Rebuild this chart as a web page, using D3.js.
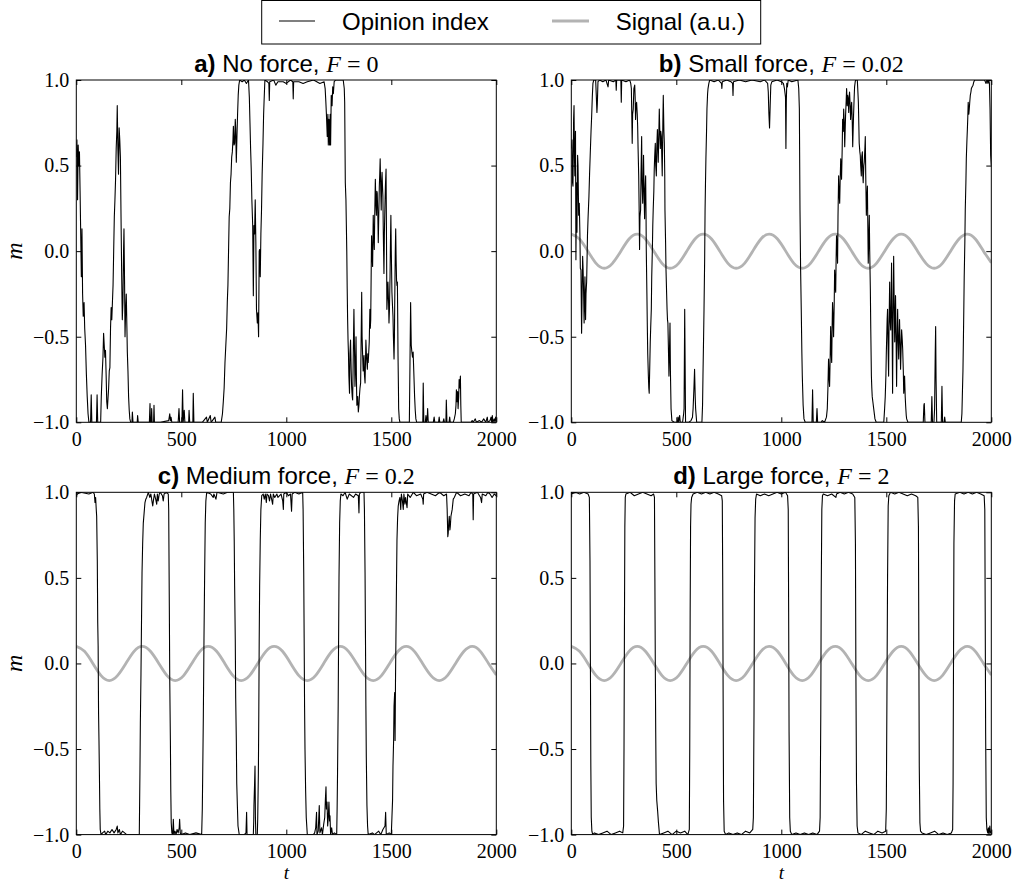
<!DOCTYPE html>
<html><head><meta charset="utf-8">
<script src="https://cdn.jsdelivr.net/npm/d3@7/dist/d3.min.js"></script>
<style>body{margin:0;background:#fff}</style>
</head><body><svg id="chart" width="1014" height="883" xmlns="http://www.w3.org/2000/svg"></svg>
<script>
const xTicks=[0,500,1000,1500,2000];
const yTicks=[-1,-0.5,0,0.5,1];
const panelLetters=["a)","b)","c)","d)"];
const panelNames=["No force,","Small force,","Medium force,","Large force,"];
const forceValues=["0","0.02","0.2","2"];
const legendLabels=["Opinion index","Signal (a.u.)"];
const showSignal=[false,true,true,true];

const signalT=[0,39,79,118,157,196,236,275,314,353,393,432,471,511,550,589,628,668,707,746,785,825,864,903,942,982,1021,1060,1100,1139,1178,1217,1257,1296,1335,1374,1414,1453,1492,1532,1571,1610,1649,1689,1728,1767,1806,1846,1885,1924,1963,2000];
const signalM=[0.1,0.071,0,-0.071,-0.1,-0.071,0,0.071,0.1,0.071,0,-0.071,-0.1,-0.071,0,0.071,0.1,0.071,0,-0.071,-0.1,-0.071,0,0.071,0.1,0.071,0,-0.071,-0.1,-0.071,0,0.071,0.1,0.071,0,-0.071,-0.1,-0.071,0,0.071,0.1,0.071,0,-0.071,-0.1,-0.071,0,0.071,0.1,0.071,0,-0.067];

const opinionA=[[0,0.55],[3,0.65],[6,0.30],[9,0.62],[12,0.50],[15,0.58],[18,0.35],[21,0.10],[24,-0.15],[27,0.13],[30,-0.25],[33,-0.38],[37,-0.30],[40,-0.45],[44,-0.55],[48,-0.72],[52,-0.85],[56,-0.95],[60,-1.0],[68,-1.0],[71,-0.84],[74,-1.0],[96,-1.0],[99,-0.84],[102,-1.0],[116,-1.0],[119,-0.85],[123,-0.72],[127,-0.62],[130,-0.48],[133,-0.55],[136,-0.62],[139,-0.58],[142,-0.72],[145,-0.88],[148,-0.92],[151,-0.86],[154,-0.80],[157,-0.70],[160,-0.68],[163,-0.45],[166,-0.33],[169,-0.40],[172,-0.30],[175,-0.20],[178,0.00],[181,0.20],[184,0.30],[187,0.42],[190,0.60],[193,0.70],[195,0.85],[198,0.60],[201,0.45],[204,0.72],[207,0.65],[210,0.55],[213,0.20],[216,-0.13],[219,-0.40],[222,-0.30],[225,0.00],[227,0.13],[230,-0.20],[232,-0.50],[235,-0.35],[238,-0.25],[241,-0.45],[243,-0.59],[246,-0.70],[249,-0.85],[252,-0.93],[255,-0.98],[259,-1.0],[265,-1.0],[267,-0.94],[270,-1.0],[290,-1.0],[292,-0.96],[295,-1.0],[348,-1.0],[351,-0.89],[353,-1.0],[357,-1.0],[359,-0.92],[361,-1.0],[368,-1.0],[370,-0.90],[372,-1.0],[400,-1.0],[440,-0.99],[445,-0.95],[448,-0.99],[451,-0.97],[455,-1.0],[485,-1.0],[489,-0.92],[492,-1.0],[503,-1.0],[506,-0.81],[509,-1.0],[514,-0.93],[517,-1.0],[535,-1.0],[537,-0.93],[540,-1.0],[555,-1.0],[557,-0.83],[560,-1.0],[600,-1.0],[620,-0.97],[624,-1.0],[638,-0.96],[642,-1.0],[660,-0.97],[664,-1.0],[690,-1.0],[696,-0.95],[700,-0.88],[704,-0.80],[708,-0.65],[712,-0.55],[716,-0.45],[719,-0.30],[722,-0.20],[725,0.00],[728,0.20],[731,0.25],[734,0.40],[737,0.45],[740,0.55],[743,0.58],[746,0.65],[748,0.73],[751,0.62],[754,0.63],[757,0.77],[759,0.72],[762,0.52],[765,0.67],[768,0.80],[771,0.91],[774,0.97],[778,1.0],[790,0.99],[800,1.0],[810,0.98],[820,1.0],[824,0.90],[827,0.75],[830,0.60],[833,0.48],[836,0.30],[840,0.15],[843,-0.26],[846,0.15],[849,0.10],[852,0.30],[855,0.05],[858,-0.34],[862,-0.42],[865,-0.36],[868,-0.50],[871,0.00],[873,0.01],[876,-0.15],[879,0.10],[882,0.24],[885,0.45],[889,0.63],[892,0.80],[894,0.87],[898,1.0],[910,0.99],[917,0.98],[919,0.88],[921,0.99],[940,1.0],[950,0.97],[960,0.99],[985,0.99],[1000,0.98],[1020,1.0],[1031,0.99],[1033,0.89],[1035,0.99],[1060,0.99],[1080,0.98],[1100,0.99],[1130,1.0],[1160,0.98],[1180,0.99],[1185,0.95],[1188,0.88],[1191,0.80],[1195,0.67],[1198,0.80],[1200,0.62],[1203,0.77],[1206,0.62],[1209,0.80],[1211,0.62],[1214,0.91],[1218,0.85],[1221,0.96],[1224,0.92],[1228,0.99],[1235,1.0],[1271,1.0],[1276,0.95],[1278,0.87],[1281,0.40],[1284,0.30],[1286,0.15],[1288,0.00],[1290,-0.22],[1292,-0.40],[1294,-0.52],[1296,-0.60],[1298,-0.73],[1301,-0.83],[1303,-0.60],[1306,-0.52],[1309,-0.70],[1311,-0.79],[1314,-0.85],[1316,-0.87],[1319,-0.60],[1322,-0.34],[1325,-0.60],[1327,-0.79],[1330,-0.65],[1332,-0.50],[1334,-0.75],[1336,-0.90],[1340,-0.85],[1343,-0.94],[1346,-0.90],[1348,-0.85],[1351,-0.80],[1354,-0.77],[1357,-0.45],[1359,-0.24],[1361,-0.50],[1363,-0.59],[1366,-0.70],[1370,-0.61],[1372,-0.72],[1375,-0.77],[1377,-0.65],[1379,-0.52],[1382,-0.62],[1386,-0.69],[1388,-0.60],[1390,-0.65],[1393,-0.58],[1395,-0.53],[1398,-0.34],[1400,-0.45],[1402,-0.40],[1404,-0.15],[1406,0.09],[1408,0.00],[1411,-0.09],[1414,0.21],[1416,0.10],[1419,0.01],[1421,0.20],[1424,0.42],[1426,0.30],[1429,0.21],[1431,0.35],[1433,0.34],[1436,0.20],[1438,0.05],[1441,0.25],[1443,0.38],[1445,0.45],[1447,0.54],[1450,0.35],[1452,0.24],[1454,0.40],[1456,0.46],[1458,0.38],[1460,0.32],[1462,0.10],[1465,-0.13],[1467,0.10],[1470,0.28],[1472,0.38],[1475,0.48],[1477,0.10],[1479,-0.34],[1482,-0.25],[1484,-0.18],[1487,-0.30],[1489,-0.42],[1491,-0.35],[1494,-0.15],[1496,0.05],[1498,0.21],[1500,0.00],[1503,-0.24],[1505,-0.30],[1508,-0.38],[1510,-0.50],[1513,-0.63],[1515,-0.50],[1516,-0.34],[1519,0.00],[1521,0.13],[1523,-0.05],[1525,-0.17],[1527,-0.20],[1529,-0.18],[1531,-0.45],[1532,-0.61],[1534,-0.80],[1535,-0.92],[1538,-0.98],[1541,-1.0],[1586,-1.0],[1589,-0.65],[1592,-0.30],[1595,-0.55],[1598,-0.59],[1601,-0.62],[1604,-0.59],[1607,-0.70],[1611,-0.85],[1614,-0.93],[1617,-0.98],[1621,-1.0],[1650,-1.0],[1652,-0.77],[1655,-1.0],[1662,-1.0],[1665,-0.96],[1668,-1.0],[1671,-0.98],[1673,-0.92],[1676,-1.0],[1700,-1.0],[1704,-0.97],[1707,-1.0],[1725,-1.0],[1728,-0.97],[1731,-1.0],[1746,-1.0],[1750,-0.98],[1753,-1.0],[1760,-1.0],[1762,-0.87],[1765,-1.0],[1775,-1.0],[1778,-0.97],[1781,-1.0],[1795,-1.0],[1800,-0.98],[1805,-0.95],[1808,-0.90],[1810,-0.81],[1813,-0.88],[1816,-0.82],[1818,-0.92],[1821,-0.85],[1823,-0.75],[1826,-0.80],[1829,-0.73],[1831,-0.90],[1833,-1.0],[1880,-1.0],[1885,-0.99],[1890,-1.0],[1900,-0.98],[1905,-1.0],[1920,-0.99],[1930,-1.0],[1940,-0.98],[1950,-1.0],[1957,-0.97],[1960,-1.0],[1970,-0.99],[1975,-0.97],[1978,-1.0],[1981,-0.96],[1984,-1.0],[1990,-0.98],[1994,-1.0],[1997,-0.97],[2000,-0.99]];

const opinionB=[[0,0.60],[3,0.65],[6,0.40],[8,0.38],[11,0.77],[13,0.85],[15,0.55],[17,0.44],[20,0.70],[22,-0.05],[25,0.40],[27,0.11],[30,0.56],[32,0.50],[35,0.21],[38,0.28],[41,0.10],[43,-0.10],[46,-0.11],[49,-0.48],[51,-0.30],[54,-0.03],[56,-0.10],[58,-0.20],[61,-0.42],[63,-0.30],[65,-0.15],[68,-0.40],[70,-0.25],[73,-0.18],[75,-0.05],[77,0.09],[80,0.20],[84,0.32],[87,0.45],[90,0.56],[94,0.70],[97,0.79],[100,0.90],[103,0.98],[107,1.0],[116,1.0],[119,0.91],[122,0.81],[124,0.86],[127,0.99],[135,1.0],[150,0.99],[165,1.0],[175,0.96],[178,1.0],[200,0.99],[212,1.0],[214,0.94],[216,1.0],[236,1.0],[238,0.87],[240,1.0],[260,0.99],[278,1.0],[283,0.98],[286,0.95],[288,0.80],[290,0.63],[292,0.80],[295,0.83],[298,0.95],[302,0.97],[304,0.90],[306,0.77],[308,0.85],[311,0.87],[314,0.80],[316,0.73],[318,0.60],[321,0.44],[323,0.25],[325,0.01],[327,0.20],[330,0.24],[332,0.45],[335,0.67],[337,0.40],[340,0.28],[342,0.40],[344,0.56],[347,0.30],[349,0.19],[351,0.35],[354,0.44],[356,0.20],[357,0.01],[360,-0.25],[362,-0.44],[364,-0.60],[367,-0.73],[369,-0.80],[371,-0.83],[374,-0.65],[376,-0.53],[378,-0.45],[381,-0.34],[383,-0.15],[386,0.01],[388,0.15],[390,0.24],[393,0.35],[395,0.48],[397,0.55],[400,0.63],[402,0.50],[405,0.44],[407,0.60],[410,0.71],[412,0.60],[414,0.52],[417,0.70],[419,0.83],[421,0.72],[424,0.60],[426,0.70],[429,0.67],[431,0.55],[433,0.44],[436,0.75],[438,0.91],[441,0.70],[443,0.63],[445,0.45],[446,0.24],[449,0.05],[451,-0.11],[454,-0.25],[456,-0.34],[458,-0.40],[460,-0.42],[463,-0.60],[465,-0.73],[468,-0.55],[470,-0.42],[472,-0.70],[475,-0.92],[479,-0.99],[490,-1.0],[505,-1.0],[508,-0.97],[511,-1.0],[516,-0.96],[519,-1.0],[530,-1.0],[535,-0.95],[537,-0.92],[540,-0.34],[542,-0.65],[544,-1.0],[560,-1.0],[570,-0.99],[577,-0.97],[580,-0.92],[584,-0.80],[587,-0.69],[590,-0.85],[592,-0.92],[597,-1.0],[622,-1.0],[625,-0.90],[627,-0.73],[630,-0.50],[632,-0.34],[635,-0.05],[637,0.24],[639,0.40],[641,0.54],[644,0.70],[646,0.83],[649,0.92],[651,0.95],[655,0.98],[659,1.0],[680,0.99],[700,1.0],[715,0.98],[717,0.95],[719,0.99],[740,1.0],[760,0.99],[768,0.98],[770,0.91],[772,0.99],[800,1.0],[830,0.99],[860,1.0],[900,0.99],[920,1.0],[935,0.98],[938,0.93],[941,0.80],[944,0.72],[947,0.85],[950,0.97],[955,0.99],[980,1.0],[1000,0.99],[1010,0.98],[1015,0.95],[1020,0.90],[1022,0.60],[1024,0.88],[1026,0.98],[1029,0.96],[1033,1.0],[1050,0.99],[1079,1.0],[1083,0.95],[1086,0.83],[1089,0.24],[1092,-0.11],[1095,-0.34],[1098,-0.60],[1100,-0.73],[1104,-0.90],[1108,-0.98],[1114,-1.0],[1146,-1.0],[1149,-0.81],[1152,-1.0],[1167,-1.0],[1170,-0.92],[1173,-1.0],[1190,-1.0],[1195,-0.99],[1206,-1.0],[1215,-0.97],[1219,-0.92],[1222,-0.80],[1225,-0.63],[1228,-0.75],[1230,-0.79],[1233,-0.60],[1235,-0.44],[1238,-0.60],[1240,-0.65],[1242,-0.45],[1244,-0.30],[1247,-0.40],[1249,-0.50],[1252,-0.30],[1254,-0.11],[1257,-0.20],[1259,-0.24],[1261,-0.05],[1263,0.09],[1266,0.00],[1268,-0.07],[1270,0.20],[1273,0.44],[1275,0.35],[1278,0.28],[1280,0.40],[1283,0.54],[1285,0.48],[1287,0.42],[1290,0.60],[1292,0.77],[1295,0.70],[1297,0.83],[1300,0.75],[1302,0.61],[1304,0.70],[1306,0.79],[1309,0.88],[1311,0.95],[1314,0.85],[1316,0.91],[1319,0.88],[1321,0.81],[1323,0.90],[1325,0.93],[1328,0.85],[1330,0.77],[1333,0.84],[1335,0.87],[1338,0.75],[1340,0.61],[1342,0.70],[1344,0.79],[1347,0.90],[1349,0.96],[1352,0.99],[1354,1.0],[1362,1.0],[1364,0.95],[1367,0.87],[1369,0.75],[1371,0.63],[1374,0.58],[1376,0.56],[1378,0.50],[1381,0.44],[1383,0.55],[1386,0.58],[1388,0.45],[1390,0.40],[1393,0.50],[1395,0.52],[1398,0.60],[1400,0.67],[1402,0.45],[1405,0.21],[1407,0.30],[1410,0.38],[1412,0.15],[1414,-0.07],[1417,0.10],[1419,0.21],[1421,0.00],[1424,-0.22],[1426,-0.45],[1429,-0.73],[1431,-0.80],[1433,-0.85],[1436,-0.88],[1440,-0.92],[1446,-0.98],[1452,-1.0],[1488,-1.0],[1492,-0.92],[1495,-0.85],[1498,-0.73],[1500,-0.60],[1502,-0.50],[1504,-0.40],[1506,-0.34],[1509,-0.60],[1511,-0.73],[1513,-0.45],[1516,-0.18],[1518,-0.40],[1521,-0.46],[1523,-0.30],[1525,-0.07],[1528,-0.50],[1530,-0.83],[1532,-0.40],[1535,-0.03],[1538,-0.35],[1540,-0.53],[1542,-0.40],[1544,-0.26],[1547,-0.55],[1549,-0.79],[1551,-0.55],[1554,-0.34],[1556,-0.50],[1559,-0.63],[1561,-0.50],[1563,-0.40],[1566,-0.55],[1568,-0.69],[1571,-0.55],[1573,-0.46],[1576,-0.52],[1578,-0.57],[1581,-0.70],[1583,-0.83],[1585,-0.78],[1587,-0.73],[1590,-0.85],[1592,-0.90],[1595,-0.96],[1597,-0.98],[1603,-1.0],[1676,-1.0],[1679,-0.90],[1681,-0.89],[1684,-1.0],[1714,-1.0],[1717,-0.85],[1720,-1.0],[1727,-1.0],[1730,-0.92],[1733,-0.60],[1735,-0.44],[1737,-0.75],[1740,-1.0],[1762,-1.0],[1765,-0.79],[1768,-1.0],[1775,-1.0],[1778,-0.97],[1781,-1.0],[1800,-1.0],[1830,-1.0],[1857,-1.0],[1860,-0.95],[1862,-0.85],[1865,-0.70],[1867,-0.53],[1869,-0.35],[1871,-0.15],[1874,0.05],[1876,0.24],[1879,0.40],[1881,0.54],[1884,0.65],[1886,0.71],[1888,0.78],[1890,0.87],[1893,0.80],[1895,0.83],[1898,0.88],[1900,0.91],[1903,0.93],[1905,0.95],[1909,0.96],[1913,0.97],[1917,0.99],[1921,1.0],[1950,1.0],[1968,1.0],[1975,0.98],[1980,1.0],[1984,0.98],[1988,1.0],[1991,0.98],[1994,0.83],[1997,0.56],[2000,0.50]];

const opinionC=[[0,0.98],[5,0.99],[20,1.0],[60,0.99],[80,1.0],[86,0.99],[89,0.94],[92,0.97],[95,0.90],[97,0.86],[100,0.60],[102,0.24],[104,0.10],[106,-0.29],[108,-0.45],[110,-0.64],[112,-0.85],[114,-0.97],[118,-1.0],[125,-0.99],[135,-0.98],[140,-1.0],[150,-0.98],[160,-0.99],[170,-0.97],[180,-0.99],[190,-0.97],[195,-0.95],[198,-0.99],[205,-0.97],[210,-1.0],[220,-0.98],[230,-0.99],[240,-1.0],[270,-1.0],[300,-1.0],[303,-0.64],[305,-0.35],[308,-0.06],[311,0.30],[313,0.53],[316,0.70],[319,0.82],[323,0.88],[327,0.94],[331,0.96],[335,0.97],[343,1.0],[350,0.97],[355,0.99],[360,0.95],[364,0.92],[367,0.95],[372,0.99],[378,0.96],[383,0.93],[386,0.99],[390,0.95],[395,0.99],[400,1.0],[410,0.98],[414,0.95],[418,0.99],[430,1.0],[438,0.99],[440,0.90],[443,0.33],[445,-0.10],[448,-0.45],[450,-0.75],[452,-0.93],[455,-0.99],[459,-1.0],[462,-0.91],[465,-1.0],[470,-0.98],[475,-1.0],[480,-0.97],[485,-0.99],[490,-0.96],[492,-0.91],[495,-0.99],[500,-1.0],[520,-0.99],[540,-1.0],[570,-0.99],[597,-1.0],[600,-0.85],[602,-0.64],[605,-0.30],[608,0.14],[611,0.50],[614,0.82],[617,0.95],[621,1.0],[640,0.99],[652,0.97],[655,0.99],[665,0.96],[670,1.0],[700,0.99],[720,1.0],[748,1.0],[750,0.90],[752,0.72],[754,0.45],[757,0.14],[759,-0.20],[762,-0.45],[764,-0.70],[767,-0.83],[770,-0.95],[776,-1.0],[800,-1.0],[808,-0.99],[811,-0.87],[813,-1.0],[830,-1.0],[843,-1.0],[845,-0.92],[846,-0.83],[849,-0.70],[851,-0.60],[853,-0.90],[855,-1.0],[862,-1.0],[864,-0.90],[867,-0.64],[869,-0.30],[871,0.14],[873,0.45],[876,0.72],[879,0.90],[883,0.98],[890,0.99],[895,0.96],[900,0.99],[905,0.94],[908,0.99],[915,0.98],[920,0.95],[925,0.99],[935,0.93],[938,0.99],[945,0.97],[955,0.99],[960,0.97],[975,0.99],[983,0.95],[986,0.90],[988,0.99],[1000,1.0],[1010,0.98],[1020,0.99],[1025,0.89],[1028,0.99],[1040,1.0],[1060,0.99],[1078,1.0],[1080,0.90],[1083,0.53],[1085,0.15],[1087,-0.25],[1089,-0.50],[1092,-0.74],[1095,-0.90],[1100,-1.0],[1129,-1.0],[1135,-0.99],[1140,-0.96],[1144,-0.87],[1146,-1.0],[1152,-0.98],[1157,-0.83],[1160,-0.99],[1168,-0.96],[1172,-1.0],[1178,-0.94],[1183,-0.90],[1186,-0.80],[1189,-0.72],[1191,-0.85],[1194,-0.81],[1197,-0.95],[1200,-0.90],[1203,-0.81],[1206,-0.92],[1208,-0.89],[1211,-1.0],[1216,-0.96],[1220,-1.0],[1229,-0.99],[1240,-1.0],[1242,-0.85],[1244,-0.64],[1247,-0.25],[1249,0.14],[1251,0.50],[1254,0.82],[1257,0.95],[1260,0.99],[1270,0.98],[1280,1.0],[1290,0.96],[1300,0.99],[1320,0.97],[1330,0.99],[1343,0.98],[1346,0.88],[1348,0.99],[1355,1.0],[1370,1.0],[1372,0.90],[1375,0.53],[1377,0.15],[1379,-0.25],[1381,-0.55],[1384,-0.83],[1387,-0.95],[1390,-1.0],[1410,-0.99],[1420,-1.0],[1440,-0.98],[1450,-1.0],[1460,-0.97],[1470,-0.95],[1473,-0.87],[1476,-1.0],[1490,-0.99],[1500,-1.0],[1503,-0.90],[1506,-0.80],[1508,-0.60],[1511,-0.45],[1513,-0.25],[1516,-0.17],[1518,-0.45],[1520,-0.10],[1522,0.14],[1525,0.50],[1527,0.72],[1530,0.85],[1533,0.92],[1537,0.95],[1541,0.97],[1545,0.90],[1548,0.99],[1553,0.95],[1557,0.90],[1560,0.99],[1565,0.93],[1568,0.97],[1575,0.91],[1578,0.99],[1590,0.97],[1605,1.0],[1620,0.98],[1640,0.99],[1650,0.96],[1652,0.93],[1654,0.99],[1670,1.0],[1690,0.99],[1710,0.98],[1730,1.0],[1750,0.98],[1763,0.99],[1766,0.90],[1769,0.74],[1771,0.76],[1774,0.83],[1776,0.86],[1779,0.78],[1781,0.80],[1784,0.86],[1787,0.88],[1790,0.90],[1795,0.96],[1800,0.97],[1811,1.0],[1830,0.98],[1850,0.99],[1870,0.98],[1880,1.0],[1888,0.99],[1890,0.84],[1892,0.99],[1910,1.0],[1925,0.97],[1930,0.94],[1933,0.99],[1950,0.98],[1960,1.0],[1970,0.99],[1980,0.97],[1990,0.99],[2000,0.98]];

const opinionD=[[0,0.99],[20,1.0],[40,0.99],[60,1.0],[80,0.99],[86,0.97],[89,0.60],[91,0.0],[93,-0.60],[95,-0.90],[98,-0.98],[102,-1.0],[110,-0.99],[130,-1.0],[150,-0.99],[170,-0.98],[190,-1.0],[210,-0.99],[230,-0.98],[245,-0.99],[249,-0.95],[251,-0.50],[253,0.20],[255,0.80],[257,0.97],[260,0.99],[280,1.0],[300,0.98],[320,0.99],[340,1.0],[360,0.99],[380,0.98],[392,0.99],[396,0.97],[398,0.50],[400,0.0],[402,-0.40],[404,-0.70],[407,-0.80],[411,-0.86],[415,-0.93],[420,-1.0],[440,-0.99],[460,-0.98],[480,-1.0],[500,-0.98],[520,-0.99],[540,-0.98],[555,-1.0],[562,-0.97],[564,-0.50],[566,0.30],[568,0.80],[570,0.93],[573,0.97],[580,0.99],[600,1.0],[620,0.99],[640,1.0],[660,0.99],[680,1.0],[700,0.99],[716,0.98],[719,0.95],[721,0.50],[723,-0.20],[725,-0.80],[728,-0.98],[735,-1.0],[750,-0.99],[770,-1.0],[790,-0.99],[810,-1.0],[830,-0.98],[850,-0.99],[864,-0.97],[867,-0.90],[870,-0.30],[872,0.40],[875,0.85],[878,0.96],[882,0.99],[900,0.98],[920,0.99],[940,0.98],[960,0.99],[980,1.0],[1000,0.99],[1020,1.0],[1030,0.98],[1033,0.90],[1035,0.30],[1037,-0.40],[1040,-0.90],[1043,-0.98],[1050,-1.0],[1070,-0.99],[1090,-1.0],[1110,-0.99],[1130,-1.0],[1150,-0.99],[1170,-1.0],[1182,-0.98],[1185,-0.90],[1188,-0.30],[1190,0.40],[1193,0.90],[1196,0.98],[1200,0.99],[1220,0.98],[1240,0.99],[1260,0.97],[1263,0.99],[1280,1.0],[1300,0.99],[1320,1.0],[1340,0.99],[1350,0.97],[1353,0.70],[1355,0.00],[1358,-0.70],[1361,-0.95],[1365,-0.99],[1380,-1.0],[1400,-0.98],[1420,-0.99],[1440,-1.0],[1460,-0.98],[1480,-0.99],[1497,-0.98],[1500,-0.85],[1503,-0.20],[1506,0.50],[1509,0.92],[1512,0.98],[1520,1.0],[1540,0.99],[1560,1.0],[1580,0.99],[1600,0.98],[1620,0.99],[1640,0.98],[1650,0.97],[1653,0.80],[1655,0.10],[1657,-0.60],[1660,-0.93],[1663,-0.98],[1670,-0.99],[1690,-1.0],[1710,-0.99],[1730,-0.98],[1750,-1.0],[1770,-0.99],[1790,-1.0],[1810,-0.99],[1816,-0.97],[1818,-0.70],[1820,0.00],[1822,0.70],[1825,0.95],[1828,0.99],[1850,1.0],[1870,0.99],[1890,1.0],[1910,0.99],[1930,1.0],[1950,0.99],[1966,0.98],[1969,0.90],[1971,0.30],[1973,-0.40],[1976,-0.90],[1979,-0.97],[1983,-0.99],[1986,-0.96],[1989,-1.0],[1993,-0.95],[1996,-0.99],[2000,-0.98]];

const opinions=[opinionA,opinionB,opinionC,opinionD];

const SANS="'Liberation Sans', Arial, Helvetica, sans-serif";
const SERIF="'Liberation Serif', 'Times New Roman', serif";
const svg=d3.select("#chart");
const W=420,H=342.3;
const colX=[76.3,571.3], rowY=[80,492.3];
const signalData=signalT.map((t,i)=>[t,signalM[i]]);

opinions.forEach((data,i)=>{
  const col=i%2,row=Math.floor(i/2);
  const x0=colX[col],y0=rowY[row];
  const g=svg.append("g").attr("transform",`translate(${x0},${y0})`);
  const x=d3.scaleLinear().domain([0,2000]).range([0,W]);
  const y=d3.scaleLinear().domain([-1,1]).range([H,0]);
  const cid="clip"+i;
  g.append("clipPath").attr("id",cid).append("rect").attr("x",0).attr("y",0).attr("width",W).attr("height",H);
  const plot=g.append("g").attr("clip-path",`url(#${cid})`);
  if(showSignal[i]){
    plot.append("path").datum(signalData)
      .attr("d",d3.line().x(d=>x(d[0])).y(d=>y(d[1])).curve(d3.curveNatural))
      .attr("fill","none").attr("stroke","#b3b3b3").attr("stroke-width",2.8);
  }
  plot.append("path").datum(data)
    .attr("d",d3.line().x(d=>x(d[0])).y(d=>y(d[1])))
    .attr("fill","none").attr("stroke","#000").attr("stroke-width",1.1).attr("stroke-linejoin","round");

  const fmtY=d3.format(".1f");
  const ax=[
    g.append("g").attr("transform",`translate(0,${H})`).call(d3.axisBottom(x).tickValues(xTicks).tickSize(-5).tickPadding(9.5).tickFormat(d3.format("d"))),
    g.append("g").call(d3.axisTop(x).tickValues(xTicks).tickSize(-5).tickFormat("")),
    g.append("g").call(d3.axisLeft(y).tickValues(yTicks).tickSize(-5).tickPadding(7).tickFormat(fmtY)),
    g.append("g").attr("transform",`translate(${W},0)`).call(d3.axisRight(y).tickValues(yTicks).tickSize(-5).tickFormat(""))
  ];
  ax.forEach(a=>{
    a.select(".domain").remove();
    a.selectAll(".tick line").attr("stroke","#000").attr("stroke-width",1);
    a.selectAll("text").attr("font-family",SERIF).attr("font-size",20).attr("fill","#000");
  });
  g.append("rect").attr("x",0).attr("y",0).attr("width",W).attr("height",H)
    .attr("fill","none").attr("stroke","#000").attr("stroke-width",1);

  const title=g.append("text").attr("x",W/2).attr("y",-8).attr("text-anchor","middle")
    .attr("font-size",24).attr("fill","#000");
  title.append("tspan").attr("font-family",SANS).attr("font-weight","bold").text(panelLetters[i]);
  title.append("tspan").attr("font-family",SANS).text(" "+panelNames[i]+" ");
  title.append("tspan").attr("font-family",SERIF).attr("font-style","italic").text("F");
  title.append("tspan").attr("font-family",SERIF).text(" = "+forceValues[i]);

  if(col===0){
    g.append("text").attr("transform",`translate(${21.5-x0},${H/2}) rotate(-90)`)
      .attr("text-anchor","middle").attr("font-family",SERIF).attr("font-style","italic")
      .attr("font-size",24).text("m");
  }
  if(row===1){
    g.append("text").attr("x",W/2).attr("y",H+44.5).attr("text-anchor","middle")
      .attr("font-family",SERIF).attr("font-style","italic").attr("font-size",19).text("t");
  }
});

// legend
const lg=svg.append("g");
lg.append("rect").attr("x",261.7).attr("y",0.5).attr("width",499).attr("height",43.5)
  .attr("fill","#fff").attr("stroke","#000").attr("stroke-width",1);
const legendItems=[{x1:279,x2:315,tx:342,color:"#000",w:1.1},{x1:552,x2:589,tx:615.7,color:"#b3b3b3",w:2.8}];
legendItems.forEach((it,k)=>{
  lg.append("line").attr("x1",it.x1).attr("x2",it.x2).attr("y1",21).attr("y2",21)
    .attr("stroke",it.color).attr("stroke-width",it.w);
  lg.append("text").attr("x",it.tx).attr("y",30).attr("font-family",SANS).attr("font-size",24)
    .attr("fill","#000").text(legendLabels[k]);
});
</script></body></html>
